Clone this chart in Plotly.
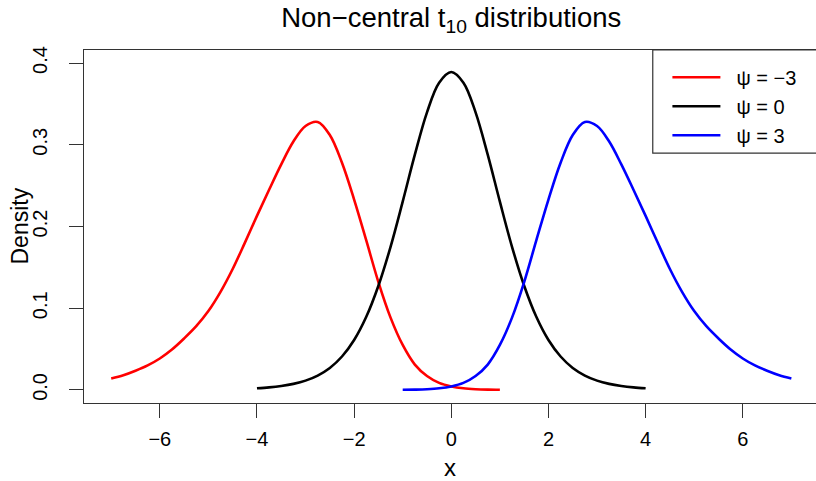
import plotly.graph_objects as go

# ---- data ----
x_black = [-4.0, -3.75, -3.5, -3.25, -3.0, -2.75, -2.5, -2.25, -2.0, -1.75, -1.5, -1.25, -1.0, -0.75, -0.5, -0.25,
           0.0, 0.25, 0.5, 0.75, 1.0, 1.25, 1.5, 1.75, 2.0, 2.25, 2.5, 2.75, 3.0, 3.25, 3.5, 3.75, 4.0]
d_black = [0.0020, 0.0031, 0.0048, 0.0074, 0.0114, 0.0176, 0.0269, 0.0409, 0.0611, 0.0895, 0.1275, 0.1751, 0.2304,
           0.2879, 0.3397, 0.3760, 0.3891, 0.3760, 0.3397, 0.2879, 0.2304, 0.1751, 0.1275, 0.0895, 0.0611, 0.0409,
           0.0269, 0.0176, 0.0114, 0.0074, 0.0048, 0.0031, 0.0020]

x_blue = [-1.0, -0.75, -0.5, -0.25, 0.0, 0.25, 0.5, 0.75, 1.0, 1.25, 1.5, 1.75, 2.0, 2.25, 2.5, 2.75, 3.0, 3.25,
          3.5, 3.75, 4.0, 4.25, 4.5, 4.75, 5.0, 5.25, 5.5, 5.75, 6.0, 6.25, 6.5, 6.75, 7.0]
d_blue = [0.0002, 0.0004, 0.0009, 0.0020, 0.0043, 0.0086, 0.0170, 0.031, 0.055, 0.0885, 0.132, 0.183, 0.233,
          0.278, 0.312, 0.328, 0.323, 0.304, 0.276, 0.245, 0.213, 0.180, 0.148, 0.120, 0.0965, 0.078, 0.063,
          0.0495, 0.0385, 0.030, 0.0235, 0.018, 0.014]

x_red = [-7.0, -6.75, -6.5, -6.25, -6.0, -5.75, -5.5, -5.25, -5.0, -4.75, -4.5, -4.25, -4.0, -3.75, -3.5, -3.25,
         -3.0, -2.75, -2.5, -2.25, -2.0, -1.75, -1.5, -1.25, -1.0, -0.75, -0.5, -0.25, 0.0, 0.25, 0.5, 0.75, 1.0]
d_red = [0.014, 0.018, 0.0235, 0.030, 0.0385, 0.0495, 0.063, 0.078, 0.0965, 0.120, 0.148, 0.180, 0.213, 0.245,
         0.276, 0.304, 0.323, 0.328, 0.312, 0.278, 0.233, 0.183, 0.132, 0.0885, 0.055, 0.031, 0.0170, 0.0086,
         0.0043, 0.0020, 0.0009, 0.0004, 0.0002]

series_names = ["\u00a0\u00a0ψ = −3", "\u00a0\u00a0ψ = 0", "\u00a0\u00a0ψ = 3"]
x_ticks = [-6, -4, -2, 0, 2, 4, 6]
x_ticktext = ["−6", "−4", "−2", "0", "2", "4", "6"]
y_ticks = [0.0, 0.1, 0.2, 0.3, 0.4]

FONT = "Liberation Sans, Arial, Helvetica, sans-serif"
AXC = "#333333"

fig = go.Figure()
for i, (xs, ys, col) in enumerate([(x_red, d_red, "#ff0000"),
                                    (x_black, d_black, "#000000"),
                                    (x_blue, d_blue, "#0000ff")]):
    fig.add_trace(go.Scatter(x=xs, y=ys, mode="lines", name=series_names[i],
                             line=dict(color=col, width=2.6, shape="spline", smoothing=1.0)))

# legend frame (top-right, touching plot corner)
fig.add_shape(type="rect", xref="paper", yref="paper", x0=0.777, x1=1.02, y0=0.708, y1=1.0,
              line=dict(color=AXC, width=1.2), fillcolor="white", layer="above")

# y-axis title placed like R's mtext
fig.add_annotation(text="Density", xref="paper", yref="paper", x=0, y=0.5, xanchor="center",
                   yanchor="middle", xshift=-65, textangle=-90, showarrow=False,
                   font=dict(size=23, family=FONT, color="black"))

fig.update_layout(
    width=816, height=481,
    margin=dict(l=84, r=0, t=50, b=78, autoexpand=False),
    paper_bgcolor="white", plot_bgcolor="white",
    font=dict(family=FONT, size=20, color="black"),
    title=dict(text="Non−central t<sub>10</sub> distributions", x=0.553, xref="container",
               xanchor="center", y=0.963, yanchor="middle", font=dict(size=27.5, family=FONT)),
    showlegend=True,
    legend=dict(x=0.797, y=0.978, xanchor="left", yanchor="top", borderwidth=0,
                bgcolor="rgba(0,0,0,0)", font=dict(size=20, family=FONT), itemwidth=48,
                tracegroupgap=0),
    xaxis=dict(range=[-7.56, 7.507], tickvals=x_ticks, ticktext=x_ticktext, automargin=False,
               showgrid=False, zeroline=False, showline=True, mirror=True, linecolor=AXC,
               linewidth=1.2, ticks="outside", ticklen=14, tickcolor=AXC, tickwidth=1.2,
               title=dict(text="x", standoff=11), ticklabelstandoff=4),
    yaxis=dict(range=[-0.016, 0.416], tickvals=y_ticks, tickformat=".1f", automargin=False,
               showgrid=False, zeroline=False, showline=True, mirror=False, linecolor=AXC,
               linewidth=1.2, ticks="outside", ticklen=14, tickcolor=AXC, tickwidth=1.2,
               tickangle=-90, ticklabelstandoff=14),
)

fig.write_html("out.html", config={"displayModeBar": False},
               post_script="document.body.style.margin='0px';")
